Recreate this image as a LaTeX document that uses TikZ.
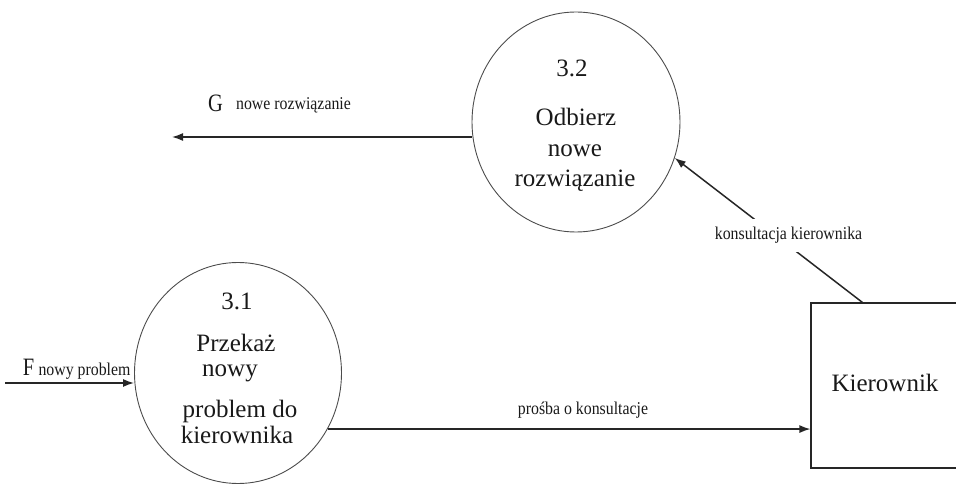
\documentclass[tikz,border=0pt]{standalone}
\usepackage{fontspec}
\usepackage{graphicx}
\setmainfont{Liberation Serif}
\usetikzlibrary{shapes.geometric,arrows.meta,calc}
\newcommand\smlbl[1]{\scalebox{0.88}[1]{\fontsize{18}{20}\selectfont #1}}
\newcommand\letlbl[1]{\scalebox{0.82}[1]{\fontsize{25}{28}\selectfont #1}}
\begin{document}
\begin{tikzpicture}[x=1pt,y=-1pt,
  proc/.style={ellipse,draw=black!70,line width=0.9pt,inner sep=0pt},
  ext/.style={rectangle,draw=black!85,line width=1.1pt,inner sep=0pt,minimum width=200pt,minimum height=165pt},
  arr/.style={draw=black!85,line width=1.5pt,-{Latex[length=11pt,width=8pt]}},
  big/.style={font=\fontsize{25}{30}\selectfont,anchor=base,inner sep=0pt,text=black!90},
  lbl/.style={anchor=base,inner sep=0pt,text=black!90}]
\useasboundingbox (0,0) rectangle (956,486);
\clip (0,0) rectangle (956,486);
% processes
\node[proc,minimum width=207pt,minimum height=221pt] (p31) at (238,373) {};
\node[proc,minimum width=208pt,minimum height=220pt] (p32) at (576,122) {};
\node[ext] (kier) at (911,385.5) {};
% texts in 3.1
\node[big] (t31a) at (237,310) {3.1};
\node[big] (t31b) at (236,352) {Przekaż};
\node[big] (t31c) at (230,376) {nowy};
\node[big] (t31d) at (240,417) {problem do};
\node[big] (t31e) at (237,443) {kierownika};
% texts in 3.2
\node[big] (t32a) at (572,77) {3.2};
\node[big] (t32b) at (576,126) {Odbierz};
\node[big] (t32c) at (575,157) {nowe};
\node[big] (t32d) at (575,187) {rozwiązanie};
% external entity
\node[big] (tk) at (885,391) {Kierownik};
% flows
\coordinate (fin) at (5,383);
\coordinate (gout) at (172,137);
\draw[arr] (fin) -- (fin -| p31.west);
\node[lbl] (lf) at (28.5,375) {\letlbl{F}};
\node[lbl] (lfn) at (84.5,375) {\smlbl{nowy problem}};
\draw[arr] (gout -| p32.west) -- (gout);
\node[lbl] (lg) at (215.5,112) {\letlbl{G}};
\node[lbl] (lgn) at (293.5,110) {\smlbl{nowe rozwiązanie}};
\draw[arr] (p31.-32) -- (p31.-32 -| kier.west);
\node[lbl] (lp) at (583,414) {\smlbl{prośba o konsultacje}};
\coordinate (ks) at ($(kier.north west)+(52,0)$);
\draw[arr] (ks) -- (p32.-20)
  node[pos=0.394,yshift=10pt,fill=white,inner xsep=1pt,inner ysep=8pt,text=black!90] (lk) {\smlbl{konsultacja kierownika}};
\end{tikzpicture}
\end{document}
